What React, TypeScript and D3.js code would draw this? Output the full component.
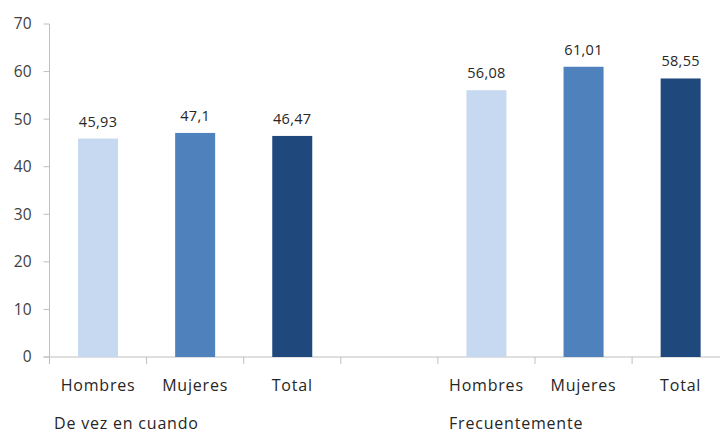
import React from "react";
import * as d3 from "d3";

const categories = ["Hombres", "Mujeres", "Total", "", "Hombres", "Mujeres", "Total"];
const values: (number | null)[] = [45.93, 47.1, 46.47, null, 56.08, 61.01, 58.55];
const valueLabels = ["45,93", "47,1", "46,47", "", "56,08", "61,01", "58,55"];
const groups = [
  { label: "De vez en cuando", start: 0 },
  { label: "Frecuentemente", start: 4 },
];
const colors = ["#C6D9F0", "#4F81BD", "#1F497D", "none", "#C6D9F0", "#4F81BD", "#1F497D"];
const yTicks = [0, 10, 20, 30, 40, 50, 60, 70];

const W = 720;
const H = 433;
const FONT = "'Open Sans', 'DejaVu Sans', sans-serif";

export default function App() {
  const left = 49.5;
  const step = 97.1;
  const x = d3
    .scaleBand<number>()
    .domain(categories.map((_, i) => i))
    .range([left, left + step * categories.length])
    .paddingInner(0)
    .paddingOuter(0);
  const y = d3.scaleLinear().domain([0, 70]).range([357, 24]);
  const barW = 40;
  const axisColor = "#BFBFBF";

  return (
    <svg
      width={W}
      height={H}
      style={{ position: "absolute", left: 0, top: 0, background: "#fff" }}
      fontFamily={FONT}
    >
      {/* y axis */}
      <line x1={left} x2={left} y1={y(70)} y2={y(0)} stroke={axisColor} strokeWidth={1} />
      {yTicks.map((t) => (
        <g key={t}>
          <line x1={left - 6} x2={left} y1={y(t)} y2={y(t)} stroke={axisColor} strokeWidth={1} />
          <text
            x={31.5}
            y={y(t)}
            dy="0.35em"
            textAnchor="end"
            fontSize={15.5}
            fill="#404040"
          >
            {t}
          </text>
        </g>
      ))}
      {/* x axis */}
      <line x1={left - 6} x2={W} y1={y(0)} y2={y(0)} stroke={axisColor} strokeWidth={1} />
      {categories.map((_, i) => (
        <line
          key={"tk" + i}
          x1={x(i)!}
          x2={x(i)!}
          y1={y(0)}
          y2={y(0) + 7}
          stroke={axisColor}
          strokeWidth={1}
        />
      ))}
      {/* bars */}
      {values.map((v, i) =>
        v == null ? null : (
          <g key={"b" + i}>
            <rect
              x={x(i)! + x.bandwidth() / 2 - barW / 2}
              y={y(v)}
              width={barW}
              height={y(0) - y(v)}
              fill={colors[i]}
            />
            <text
              x={x(i)! + x.bandwidth() / 2}
              y={y(v) - 12}
              textAnchor="middle"
              fontSize={14.5}
              letterSpacing={0.3}
              fill="#262626"
            >
              {valueLabels[i]}
            </text>
          </g>
        )
      )}
      {/* category labels */}
      {categories.map((c, i) => (
        <text
          key={"c" + i}
          x={x(i)! + x.bandwidth() / 2}
          y={385}
          dy="0.35em"
          textAnchor="middle"
          fontSize={16}
          letterSpacing={0.8}
          fill="#262626"
        >
          {c}
        </text>
      ))}
      {/* group labels */}
      {groups.map((g, gi) => (
        <text
          key={"g" + gi}
          x={gi === 0 ? 54 : 449}
          y={423}
          dy="0.35em"
          textAnchor="start"
          fontSize={16}
          letterSpacing={0.8}
          fill="#262626"
        >
          {g.label}
        </text>
      ))}
    </svg>
  );
}
